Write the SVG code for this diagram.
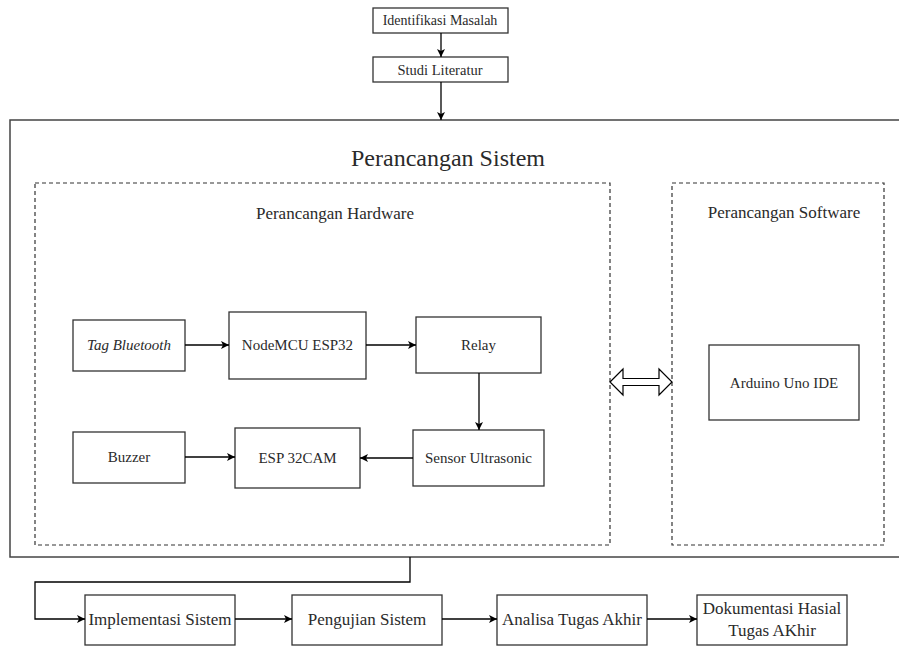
<svg xmlns="http://www.w3.org/2000/svg" width="899" height="647" viewBox="0 0 899 647">
<style>
  .box { fill: #fff; stroke: #333; stroke-width: 1.3; }
  .dash { fill: none; stroke: #333; stroke-width: 1.2; stroke-dasharray: 4 3; }
  .outer { fill: #fff; stroke: #444; stroke-width: 1.5; }
  .lbl { font-family: 'Liberation Serif', 'Tinos', 'DejaVu Serif', 'Noto Serif', serif; fill: #2a2a2a; text-anchor: middle; }
  .edge { fill: none; stroke: #000; stroke-width: 1.3; marker-end: url(#ah); }
</style>
<defs>
  <marker id="ah" markerUnits="userSpaceOnUse" markerWidth="10" markerHeight="10" refX="9" refY="5" orient="auto">
    <path d="M1,1 L9,5 L1,9 L3,5 Z" fill="#000"/>
  </marker>
</defs>
<rect width="899" height="647" fill="#fff"/>

<g id="outer">
  <rect class="outer" x="10" y="120" width="900" height="437"/>
  <text class="lbl" x="448" y="166" font-size="24">Perancangan Sistem</text>
</g>
<g id="hardware">
  <rect class="dash" x="35" y="183" width="575" height="362"/>
  <text class="lbl" x="335" y="219" font-size="17">Perancangan Hardware</text>
</g>
<g id="software">
  <rect class="dash" x="672" y="183" width="212" height="362"/>
  <text class="lbl" x="784" y="218" font-size="17">Perancangan Software</text>
</g>

<g id="identifikasi">
  <rect class="box" x="373" y="8" width="135" height="25"/>
  <text class="lbl" x="440" y="25" font-size="14">Identifikasi Masalah</text>
</g>
<g id="studi">
  <rect class="box" x="373" y="57" width="135" height="25"/>
  <text class="lbl" x="440" y="75" font-size="14.5">Studi Literatur</text>
</g>

<g id="tag">
  <rect class="box" x="73" y="320" width="112" height="51"/>
  <text class="lbl" x="129" y="350" font-size="15" font-style="italic">Tag Bluetooth</text>
</g>
<g id="nodemcu">
  <rect class="box" x="229" y="312" width="137" height="67"/>
  <text class="lbl" x="297.5" y="350" font-size="15">NodeMCU ESP32</text>
</g>
<g id="relay">
  <rect class="box" x="416" y="317" width="125" height="56"/>
  <text class="lbl" x="478.5" y="350" font-size="15">Relay</text>
</g>
<g id="buzzer">
  <rect class="box" x="73" y="432" width="112" height="51"/>
  <text class="lbl" x="129" y="462" font-size="15">Buzzer</text>
</g>
<g id="esp32cam">
  <rect class="box" x="235" y="428" width="125" height="60"/>
  <text class="lbl" x="297.5" y="463" font-size="15">ESP 32CAM</text>
</g>
<g id="sensor">
  <rect class="box" x="413" y="430" width="131" height="56"/>
  <text class="lbl" x="478.5" y="463" font-size="15">Sensor Ultrasonic</text>
</g>
<g id="arduino">
  <rect class="box" x="709" y="345" width="150" height="75"/>
  <text class="lbl" x="784" y="388" font-size="15">Arduino Uno IDE</text>
</g>

<g id="implementasi">
  <rect class="box" x="85" y="595" width="150" height="50"/>
  <text class="lbl" x="160" y="625" font-size="17">Implementasi Sistem</text>
</g>
<g id="pengujian">
  <rect class="box" x="292" y="595" width="150" height="50"/>
  <text class="lbl" x="367" y="625" font-size="17">Pengujian Sistem</text>
</g>
<g id="analisa">
  <rect class="box" x="497" y="595" width="150" height="50"/>
  <text class="lbl" x="572" y="625" font-size="17">Analisa Tugas Akhir</text>
</g>
<g id="dokumentasi">
  <rect class="box" x="697" y="595" width="150" height="50"/>
  <text class="lbl" x="772" y="614" font-size="17">Dokumentasi Hasial</text>
  <text class="lbl" x="772" y="636" font-size="17">Tugas AKhir</text>
</g>

<g id="connectors">
  <path class="edge" d="M441,33 L441,57"/>
  <path class="edge" d="M441,82 L441,120"/>
  <path class="edge" d="M185,345 L229,345"/>
  <path class="edge" d="M366,345 L416,345"/>
  <path class="edge" d="M479,373 L479,430"/>
  <path class="edge" d="M413,458 L360,458"/>
  <path class="edge" d="M185,457 L235,457"/>
  <path class="edge" d="M410,557 L410,582 L35,582 L35,619 L85,619"/>
  <path class="edge" d="M235,619 L292,619"/>
  <path class="edge" d="M442,619 L497,619"/>
  <path class="edge" d="M647,619 L697,619"/>
  <polygon points="610,382 623,369 623,378.5 659,378.5 659,369 672,382 659,395 659,385.5 623,385.5 623,395" fill="#fff" stroke="#000" stroke-width="1.2"/>
</g>
</svg>
